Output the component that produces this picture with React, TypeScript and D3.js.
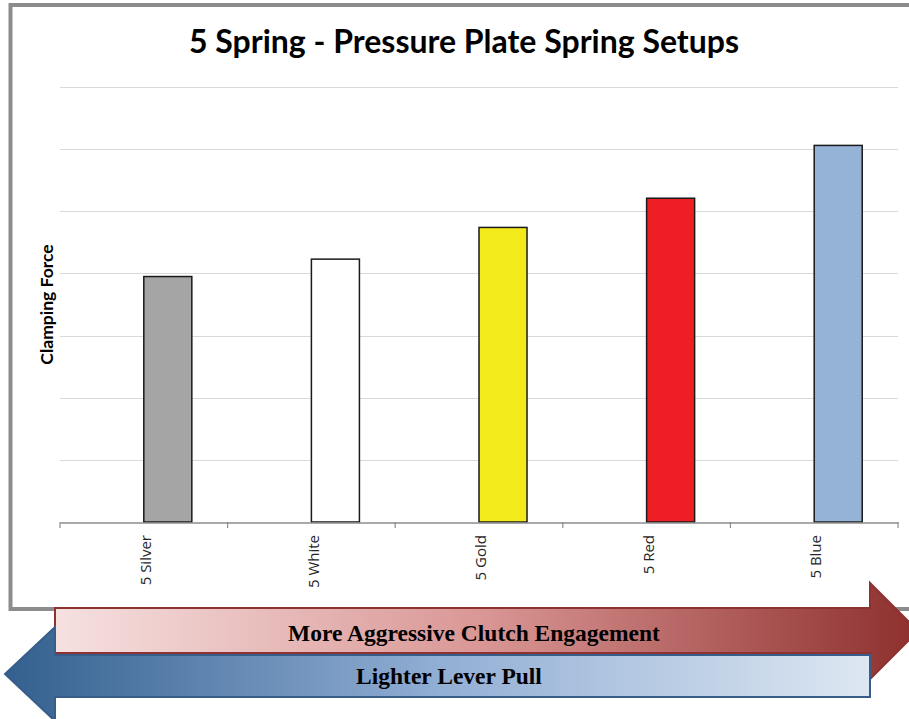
import React, { useEffect, useRef } from 'react';
import * as d3 from 'd3';

// chart values
const categories = ['5 Silver', '5 White', '5 Gold', '5 Red', '5 Blue'];
const clampingForce = [3.95, 4.23, 4.74, 5.21, 6.06];
const barColors = ['#a5a5a5', '#ffffff', '#f2ea1b', '#ee1f24', '#95b3d7'];
const gridTicks = [0, 1, 2, 3, 4, 5, 6, 7];

const titleText = '5 Spring - Pressure Plate Spring Setups';
const yLabel = 'Clamping Force';
const rightArrowText = 'More Aggressive Clutch Engagement';
const leftArrowText = 'Lighter Lever Pull';

const App: React.FC = () => {
  const ref = useRef<SVGSVGElement>(null);

  useEffect(() => {
    if (!ref.current) return;
    const width = 909;
    const height = 719;
    const svg = d3.select(ref.current);
    svg.selectAll('*').remove();

    const plot = { left: 60, right: 898, top: 87, bottom: 522 };

    const defs = svg.append('defs');
    const redGrad = defs.append('linearGradient').attr('id', 'redGrad')
      .attr('gradientUnits', 'userSpaceOnUse')
      .attr('x1', 55).attr('x2', 915).attr('y1', 0).attr('y2', 0);
    redGrad.append('stop').attr('offset', '0%').attr('stop-color', '#f6e1e1');
    redGrad.append('stop').attr('offset', '50%').attr('stop-color', '#d99694');
    redGrad.append('stop').attr('offset', '100%').attr('stop-color', '#8e302e');

    const blueGrad = defs.append('linearGradient').attr('id', 'blueGrad')
      .attr('gradientUnits', 'userSpaceOnUse')
      .attr('x1', 5).attr('x2', 870).attr('y1', 0).attr('y2', 0);
    blueGrad.append('stop').attr('offset', '0%').attr('stop-color', '#33608f');
    blueGrad.append('stop').attr('offset', '50%').attr('stop-color', '#91aed4');
    blueGrad.append('stop').attr('offset', '100%').attr('stop-color', '#dde7f2');

    svg.append('rect').attr('width', width).attr('height', height).attr('fill', '#ffffff');

    // chart frame
    svg.append('rect')
      .attr('x', 10.5).attr('y', 5).attr('width', 915).attr('height', 604)
      .attr('fill', '#ffffff').attr('stroke', '#8c8c8c').attr('stroke-width', 4);

    const x = d3.scaleBand<string>().domain(categories).range([plot.left, plot.right]);
    // two slots per category like Excel's clustered bars; the visible series sits in the second
    const inner = d3.scaleBand<string>().domain(['empty', 'spring'])
      .range([0, x.bandwidth()]).paddingOuter(0.745);
    const y = d3.scaleLinear().domain([0, 7]).range([plot.bottom, plot.top]);

    const g = svg.append('g');

    g.selectAll('line.grid')
      .data(gridTicks.slice(1))
      .enter()
      .append('line')
      .attr('class', 'grid')
      .attr('x1', plot.left).attr('x2', plot.right)
      .attr('y1', d => Math.round(y(d)) + 0.5).attr('y2', d => Math.round(y(d)) + 0.5)
      .attr('stroke', '#d9d9d9').attr('stroke-width', 1.2);

    g.selectAll('rect.bar')
      .data(clampingForce)
      .enter()
      .append('rect')
      .attr('class', 'bar')
      .attr('x', (d, i) => (x(categories[i]) ?? 0) + (inner('spring') ?? 0))
      .attr('y', d => y(d))
      .attr('width', inner.bandwidth())
      .attr('height', d => y(0) - y(d))
      .attr('fill', (d, i) => barColors[i])
      .attr('stroke', '#1a1a1a').attr('stroke-width', 1.5);

    // category axis
    const xAxis = g.append('g')
      .attr('transform', `translate(0,${plot.bottom + 0.5})`)
      .call(d3.axisBottom(x).tickSize(0).tickFormat(() => ''));
    xAxis.select('.domain').attr('stroke', '#8c8c8c').attr('stroke-width', 1.5);
    xAxis.selectAll('.tick').remove();

    const bounds = categories.map(c => x(c) ?? 0).concat([plot.right]);
    g.selectAll('line.tick')
      .data(bounds)
      .enter()
      .append('line')
      .attr('x1', d => d).attr('x2', d => d)
      .attr('y1', plot.bottom).attr('y2', plot.bottom + 6)
      .attr('stroke', '#8c8c8c').attr('stroke-width', 1.2);

    g.selectAll('text.cat')
      .data(categories)
      .enter()
      .append('text')
      .attr('class', 'cat')
      .attr('transform', d => `translate(${(x(d) ?? 0) + x.bandwidth() / 2 + 2},${plot.bottom + 13}) rotate(-90)`)
      .attr('text-anchor', 'end')
      .attr('dy', '0.35em')
      .attr('font-family', '"Open Sans", sans-serif')
      .attr('font-size', 15)
      .attr('fill', '#262626')
      .text(d => d);

    svg.append('text')
      .attr('x', 464).attr('y', 53)
      .attr('text-anchor', 'middle')
      .attr('font-family', 'Lato, sans-serif')
      .attr('font-weight', 700)
      .attr('font-size', 32)
      .attr('fill', '#000000')
      .text(titleText);

    svg.append('text')
      .attr('transform', `translate(47,${(plot.top + plot.bottom) / 2}) rotate(-90)`)
      .attr('text-anchor', 'middle')
      .attr('dy', '0.35em')
      .attr('font-family', 'Lato, sans-serif')
      .attr('font-weight', 700)
      .attr('font-size', 17.5)
      .attr('fill', '#000000')
      .text(yLabel);

    // right-pointing arrow
    const redPath = d3.path();
    redPath.moveTo(55, 608);
    redPath.lineTo(870, 608);
    redPath.lineTo(870, 583);
    redPath.lineTo(918, 631);
    redPath.lineTo(870, 679);
    redPath.lineTo(870, 653);
    redPath.lineTo(55, 653);
    redPath.closePath();
    svg.append('path').attr('d', redPath.toString())
      .attr('fill', 'url(#redGrad)').attr('stroke', '#8c3230').attr('stroke-width', 2);

    // left-pointing arrow
    const bluePath = d3.path();
    bluePath.moveTo(870, 655);
    bluePath.lineTo(55, 655);
    bluePath.lineTo(55, 627);
    bluePath.lineTo(5, 674);
    bluePath.lineTo(55, 721);
    bluePath.lineTo(55, 697);
    bluePath.lineTo(870, 697);
    bluePath.closePath();
    svg.append('path').attr('d', bluePath.toString())
      .attr('fill', 'url(#blueGrad)').attr('stroke', '#385d8a').attr('stroke-width', 2);

    svg.append('text')
      .attr('x', 474).attr('y', 641)
      .attr('text-anchor', 'middle')
      .attr('font-family', '"Liberation Serif", serif')
      .attr('font-weight', 700)
      .attr('font-size', 23.5)
      .attr('fill', '#000000')
      .text(rightArrowText);

    svg.append('text')
      .attr('x', 449).attr('y', 684)
      .attr('text-anchor', 'middle')
      .attr('font-family', '"Liberation Serif", serif')
      .attr('font-weight', 700)
      .attr('font-size', 23.5)
      .attr('fill', '#000000')
      .text(leftArrowText);
  }, []);

  return (
    <svg
      ref={ref}
      width={909}
      height={719}
      style={{ position: 'absolute', left: 0, top: 0, display: 'block' }}
    />
  );
};

export default App;
